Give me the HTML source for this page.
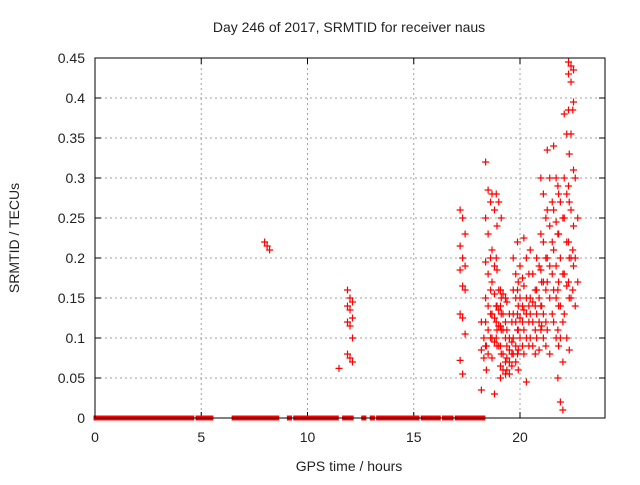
<!DOCTYPE html>
<html><head><meta charset="utf-8"><style>
body{margin:0;background:#fff;width:640px;height:480px;overflow:hidden}
text{font-family:"Liberation Sans",sans-serif;font-size:14px;fill:#222}
</style></head><body>
<svg id="chart" width="640" height="480" xmlns="http://www.w3.org/2000/svg">
<text x="349" y="32" text-anchor="middle">Day 246 of 2017, SRMTID for receiver naus</text>
<text x="349" y="471" text-anchor="middle">GPS time / hours</text>
<text transform="translate(19,238) rotate(-90)" text-anchor="middle">SRMTID / TECUs</text>
<g id="grid"></g><g id="ticks"></g><g id="zeros"></g><g id="pts"></g>
<rect x="95" y="58" width="510" height="360" fill="none" stroke="#000" stroke-width="1"/>
</svg>
<script>
const xTicks=[0,5,10,15,20];
const yTicks=[0,0.05,0.1,0.15,0.2,0.25,0.3,0.35,0.4,0.45];
const yTickLabels=["0","0.05","0.1","0.15","0.2","0.25","0.3","0.35","0.4","0.45"];
const zeroRanges=[[0,1.1],[1.2,1.6],[1.7,2.5],[2.6,3.1],[3.15,3.5],[3.6,4.1],[4.2,4.6],[4.8,5.5],[6.5,8.6],[9.1,9.2],[9.4,11.4],[11.7,12.1],[12.6,12.7],[13.0,13.1],[13.3,14.6],[14.7,15.2],[15.4,16.2],[16.4,16.8],[17.0,18.3]];
const colTimes=[8.1,11.6,12.0,17.3,18.3,18.5,18.8,19.0,19.2,19.5,19.8,20.0,20.3,20.6,20.9,21.1,21.4,21.7,21.9,22.2,22.4,22.6];
const colValues=[
[0.22,0.215,0.21],
[0.062],
[0.16,0.15,0.145,0.14,0.135,0.125,0.12,0.115,0.1,0.08,0.075,0.07],
[0.26,0.25,0.23,0.215,0.2,0.19,0.185,0.165,0.16,0.13,0.125,0.105,0.072,0.055],
[0.12,0.1,0.09,0.085,0.075,0.06,0.035],
[0.32,0.285,0.27,0.25,0.23,0.2,0.195,0.18,0.16,0.15,0.14,0.13,0.12,0.11,0.1,0.09,0.08],
[0.28,0.26,0.24,0.21,0.19,0.185,0.17,0.155,0.14,0.13,0.125,0.11,0.1,0.095,0.09,0.075,0.03],
[0.28,0.27,0.25,0.2,0.16,0.15,0.14,0.135,0.13,0.12,0.115,0.11,0.1,0.09,0.08],
[0.16,0.155,0.15,0.14,0.13,0.12,0.115,0.11,0.1,0.09,0.08,0.07,0.065,0.06,0.055,0.05],
[0.145,0.13,0.12,0.11,0.1,0.095,0.09,0.085,0.08,0.075,0.07,0.065,0.06,0.055],
[0.2,0.18,0.17,0.16,0.15,0.14,0.13,0.12,0.11,0.1,0.09,0.085,0.08,0.07,0.06],
[0.22,0.19,0.175,0.16,0.15,0.14,0.13,0.125,0.12,0.11,0.1,0.09,0.08],
[0.225,0.2,0.18,0.165,0.15,0.14,0.135,0.13,0.12,0.11,0.1,0.09,0.08,0.045],
[0.21,0.18,0.16,0.15,0.145,0.14,0.13,0.12,0.11,0.1,0.09,0.08],
[0.2,0.19,0.17,0.16,0.15,0.14,0.13,0.12,0.115,0.1,0.085],
[0.3,0.28,0.25,0.23,0.22,0.2,0.185,0.17,0.16,0.14,0.13,0.12,0.11,0.1,0.09],
[0.335,0.3,0.27,0.26,0.24,0.22,0.2,0.19,0.18,0.17,0.15,0.13,0.11,0.08],
[0.34,0.3,0.28,0.26,0.245,0.23,0.21,0.19,0.17,0.16,0.15,0.14,0.12,0.1,0.09],
[0.29,0.27,0.25,0.23,0.2,0.18,0.16,0.14,0.12,0.11,0.1,0.07,0.05,0.02,0.01],
[0.38,0.355,0.33,0.3,0.28,0.27,0.25,0.22,0.2,0.18,0.165,0.15,0.13,0.1,0.085],
[0.445,0.44,0.435,0.43,0.42,0.395,0.385,0.355,0.31,0.29,0.26,0.24,0.22,0.2,0.19,0.17,0.15],
[0.385,0.3,0.25,0.21,0.2,0.17,0.16,0.14]
];
const NS="http://www.w3.org/2000/svg";
const X0=95,X1=605,Y0=418,Y1=58,XMAX=24,YMAX=0.45;
const xs=t=>X0+(t/XMAX)*(X1-X0);
const ys=v=>Y0-(v/YMAX)*(Y0-Y1);
function mk(tag,parent,attrs){const e=document.createElementNS(NS,tag);for(const k in attrs)e.setAttribute(k,attrs[k]);parent.appendChild(e);return e;}
const grid=document.getElementById('grid'),ticks=document.getElementById('ticks');
xTicks.forEach(t=>{const x=xs(t);
 if(t>0){const g=mk('line',grid,{x1:x,x2:x,y1:Y1,y2:Y0,stroke:'#a0a0a0','stroke-dasharray':'2,3'});
 
 }
 mk('line',ticks,{x1:x,x2:x,y1:Y0,y2:Y0-6,stroke:'#000'});
 mk('line',ticks,{x1:x,x2:x,y1:Y1,y2:Y1+6,stroke:'#000'});
 const l=mk('text',ticks,{x:x,y:Y0+24,'text-anchor':'middle'});l.textContent=t;
 
 
});
yTicks.forEach((v,i)=>{const y=ys(v);
 if(i>0&&i<yTicks.length-1){const g=mk('line',grid,{x1:X0,x2:X1,y1:y,y2:y,stroke:'#a0a0a0','stroke-dasharray':'2,3'});
 
 }
 mk('line',ticks,{x1:X0,x2:X0+6,y1:y,y2:y,stroke:'#000'});
 mk('line',ticks,{x1:X1,x2:X1-6,y1:y,y2:y,stroke:'#000'});
 const l=mk('text',ticks,{x:X0-10,y:y+5,'text-anchor':'end'});l.textContent=yTickLabels[i];
 
 
});
const zg=document.getElementById('zeros');
zeroRanges.forEach(r=>{const z=mk('rect',zg,{x:xs(r[0])-1.5,y:ys(0)-2.5,width:xs(r[1])-xs(r[0])+3,height:5,fill:'#ff0000'});
 
 });
const pg=document.getElementById('pts');
colTimes.forEach((t,ci)=>{colValues[ci].forEach((v,j)=>{
 const dx=((j%3)-1)*2.5;const x=xs(t)+dx,y=ys(v);
 const p=mk('path',pg,{d:`M${x-3.5},${y}H${x+3.5}M${x},${y-3.5}V${y+3.5}`,stroke:'#ff0000','stroke-width':1.2,fill:'none'});
 
 
});});
</script>
</body></html>
